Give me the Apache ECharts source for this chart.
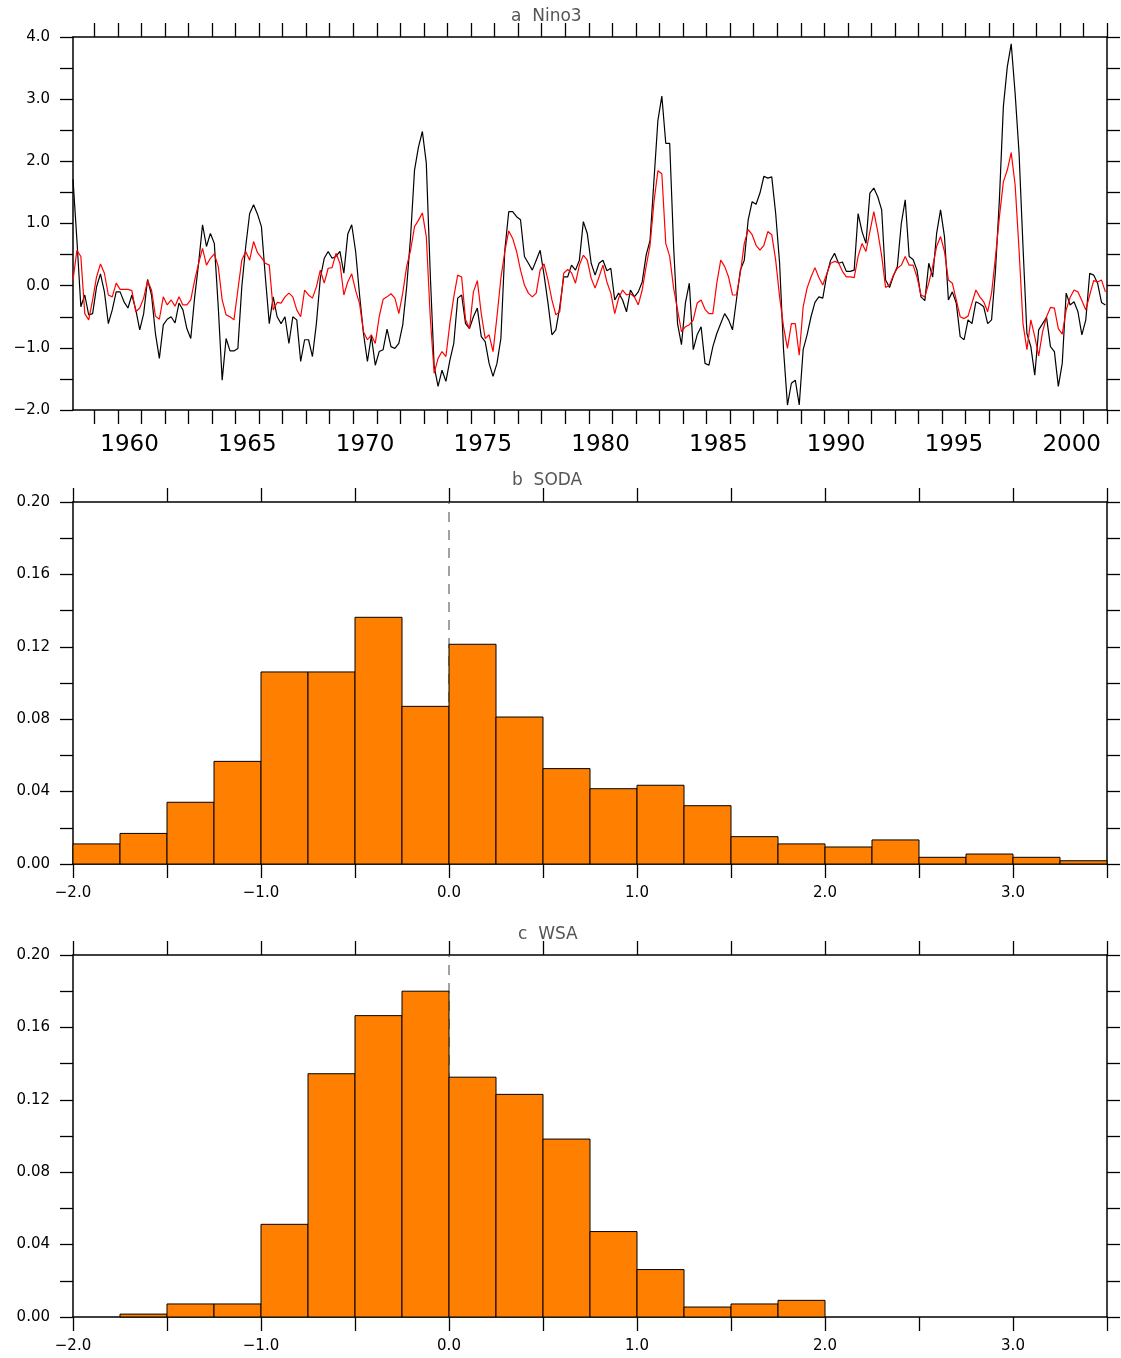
<!DOCTYPE html>
<html>
<head>
<meta charset="utf-8">
<script src="https://cdn.jsdelivr.net/npm/echarts@6.0.0/dist/echarts.min.js"></script>
<style>
  body { margin: 0; background: #fff; }
  #main { width: 1121px; height: 1358px; }
</style>
</head>
<body>
<div id="main"></div>
<script>
// Nino3 index, every two months from early 1958
var startYear = 1958.1;
var stepYear = 1 / 6;
var nino3Black = [
  1.71, 0.73, -0.34, -0.15, -0.47, -0.45, -0.02, 0.19, -0.10, -0.61,
  -0.39, -0.10, -0.10, -0.26, -0.36, -0.15, -0.39, -0.71, -0.45, 0.10,
  -0.15, -0.77, -1.17, -0.63, -0.54, -0.50, -0.60, -0.28, -0.39, -0.69,
  -0.85, -0.18, 0.36, 0.98, 0.63, 0.84, 0.68, -0.34, -1.52, -0.85,
  -1.05, -1.05, -1.01, -0.02, 0.63, 1.16, 1.30, 1.15, 0.95, 0.14,
  -0.61, -0.18, -0.50, -0.61, -0.50, -0.93, -0.50, -0.55, -1.22, -0.87,
  -0.87, -1.14, -0.61, 0.12, 0.44, 0.55,
  0.44, 0.47, 0.55, 0.20, 0.83, 0.98, 0.55, -0.15, -0.77, -1.22,
  -0.81, -1.28, -1.06, -1.03, -0.70, -0.98, -1.01, -0.93, -0.63, -0.02,
  0.79, 1.86, 2.23, 2.48, 1.97, 0.20, -1.30, -1.62, -1.36, -1.54,
  -1.20, -0.93, -0.20, -0.15, -0.61, -0.69, -0.50, -0.36, -0.82, -0.90,
  -1.25, -1.46, -1.25, -0.85, 0.57, 1.19, 1.19, 1.11, 1.06, 0.47,
  0.36, 0.25, 0.41, 0.57, 0.17, -0.28, -0.79, -0.71, -0.34, 0.14,
  0.14, 0.33, 0.25, 0.41, 1.03, 0.84,
  0.36, 0.17, 0.36, 0.41, 0.24, 0.28, -0.23, -0.12, -0.23, -0.42,
  -0.07, -0.18, -0.10, 0.06, 0.49, 0.73, 1.70, 2.66, 3.05, 2.29,
  2.29, 0.63, -0.61, -0.95, -0.28, 0.04, -1.03, -0.79, -0.66, -1.25,
  -1.28, -0.98, -0.77, -0.61, -0.45, -0.55, -0.71, -0.23, 0.25, 0.41,
  1.06, 1.35, 1.31, 1.49, 1.76, 1.73, 1.75, 1.16, 0.36, -1.03,
  -1.92, -1.57, -1.52, -1.92, -1.03, -0.79, -0.50, -0.27, -0.18, -0.20,
  0.17, 0.41, 0.52, 0.36, 0.38, 0.23,
  0.23, 0.25, 1.16, 0.87, 0.68, 1.49, 1.57, 1.43, 1.22, 0.09,
  -0.03, 0.16, 0.31, 1.00, 1.38, 0.47, 0.42, 0.25, -0.18, -0.24,
  0.36, 0.14, 0.84, 1.22, 0.79, -0.23, -0.10, -0.28, -0.82, -0.87,
  -0.55, -0.61, -0.26, -0.29, -0.34, -0.61, -0.55, 0.25, 1.40, 2.88,
  3.52, 3.89, 3.09, 2.13, 0.63, -0.77, -0.98, -1.44, -0.71, -0.61,
  -0.51, -0.98, -1.06, -1.62, -1.25, -0.12, -0.31, -0.26, -0.42, -0.79,
  -0.55, 0.20, 0.17, 0.04, -0.27, -0.31
];
var nino3Red = [
  0.09, 0.57, 0.47, -0.45, -0.55, -0.23, 0.14, 0.35, 0.20, -0.15,
  -0.18, 0.04, -0.06, -0.06, -0.06, -0.08, -0.42, -0.36, -0.20, 0.08,
  -0.07, -0.49, -0.54, -0.18, -0.31, -0.23, -0.33, -0.18, -0.31, -0.31,
  -0.23, 0.09, 0.36, 0.60, 0.33, 0.44, 0.51, 0.31, -0.23, -0.47,
  -0.50, -0.55, -0.07, 0.41, 0.55, 0.41, 0.71, 0.53, 0.45, 0.36,
  0.33, -0.39, -0.27, -0.28, -0.18, -0.12, -0.18, -0.39, -0.50, -0.07,
  -0.15, -0.20, -0.02, 0.25, 0.04, 0.28,
  0.29, 0.52, 0.36, -0.15, 0.06, 0.19, -0.08, -0.29, -0.74, -0.87,
  -0.79, -0.93, -0.50, -0.22, -0.18, -0.13, -0.20, -0.45, -0.12, 0.31,
  0.57, 0.95, 1.05, 1.17, 0.79, -0.50, -1.41, -1.17, -1.06, -1.14,
  -0.61, -0.18, 0.17, 0.14, -0.55, -0.69, -0.10, 0.08, -0.45, -0.85,
  -0.79, -1.06, -0.50, 0.12, 0.55, 0.88, 0.76, 0.55, 0.25, 0.01,
  -0.12, -0.18, -0.12, 0.25, 0.35, 0.09, -0.23, -0.47, -0.42, 0.20,
  0.26, 0.21, 0.04, 0.33, 0.49, 0.41,
  0.12, -0.04, 0.14, 0.33, 0.06, -0.12, -0.45, -0.20, -0.07, -0.15,
  -0.13, -0.18, -0.31, -0.07, 0.31, 0.65, 1.35, 1.85, 1.80, 0.68,
  0.47, -0.04, -0.39, -0.74, -0.66, -0.63, -0.55, -0.28, -0.23, -0.38,
  -0.45, -0.45, 0.04, 0.41, 0.31, 0.14, -0.15, -0.15, 0.20, 0.68,
  0.90, 0.82, 0.65, 0.57, 0.65, 0.87, 0.82, 0.41, -0.18, -0.66,
  -1.01, -0.61, -0.61, -1.12, -0.34, -0.04, 0.14, 0.29, 0.13, 0.01,
  0.19, 0.36, 0.39, 0.37, 0.23, 0.14,
  0.14, 0.13, 0.47, 0.68, 0.55, 0.87, 1.19, 0.87, 0.48, -0.03,
  0.01, 0.17, 0.28, 0.33, 0.47, 0.33, 0.33, 0.14, -0.15, -0.18,
  0.04, 0.31, 0.63, 0.79, 0.55, 0.09, 0.04, -0.23, -0.50, -0.53,
  -0.49, -0.28, -0.07, -0.18, -0.26, -0.42, -0.12, 0.47, 1.11, 1.67,
  1.86, 2.14, 1.62, 0.57, -0.61, -1.03, -0.55, -0.82, -1.13, -0.74,
  -0.50, -0.35, -0.36, -0.69, -0.78, -0.39, -0.19, -0.07, -0.10, -0.24,
  -0.39, -0.15, 0.08, 0.06, 0.09, -0.10
];
var yearLabels = [1960, 1965, 1970, 1975, 1980, 1985, 1990, 1995, 2000];

// histogram bins and relative frequencies
var binEdges = [-2.0, -1.75, -1.5, -1.25, -1.0, -0.75, -0.5, -0.25, 0.0, 0.25, 0.5,
  0.75, 1.0, 1.25, 1.5, 1.75, 2.0, 2.25, 2.5, 2.75, 3.0, 3.25, 3.5];
var sodaFreq = [0.0111, 0.0169, 0.0341, 0.0567, 0.1061, 0.1061, 0.1363, 0.0871, 0.1214, 0.0812,
  0.0527, 0.0416, 0.0435, 0.0322, 0.0151, 0.0111, 0.0094, 0.0133, 0.0037, 0.0055, 0.0037, 0.0018];
var wsaFreq = [0, 0.0016, 0.0072, 0.0072, 0.0512, 0.1344, 0.1665, 0.1800, 0.1325, 0.1230,
  0.0983, 0.0472, 0.0262, 0.0055, 0.0072, 0.0092, 0, 0, 0, 0, 0, 0];

var FONT = 'DejaVu Sans';
var chart = echarts.init(document.getElementById('main'));

function toPairs(vals) {
  var out = [];
  for (var i = 0; i < vals.length; i++) {
    out.push([startYear + i * stepYear, vals[i]]);
  }
  return out;
}

function histData(freq) {
  var out = [];
  for (var i = 0; i < freq.length; i++) {
    if (freq[i] > 0) out.push([binEdges[i], binEdges[i + 1], freq[i]]);
  }
  return out;
}

function minus(s) { return s.replace('-', '\u2212'); }

var yearTicks = [];
for (var y = 1959; y <= 2002; y++) yearTicks.push(y);
// year labels sit in the middle of their year
var yearLabelPos = yearLabels.map(function (v) { return v + 0.5; });

var lineStyle = { color: '#000', width: 1.5 };
var tickStyle = { color: '#000', width: 1.3 };

function frameAxis(grid, pos, extra) {
  var a = {
    gridIndex: grid, type: 'value', position: pos,
    axisLine: { onZero: false, lineStyle: lineStyle },
    axisTick: { inside: false, length: 14, lineStyle: tickStyle },
    axisLabel: { show: false },
    splitLine: { show: false }
  };
  return echarts.util.merge(a, extra || {}, true);
}

function merge2(a, b) { return echarts.util.merge(echarts.util.clone(a), b || {}, true); }

var timeX = { min: 1958.1, max: 2002, axisTick: { customValues: yearTicks } };
var timeXLabel = {
  axisLabel: {
    show: true, customValues: yearLabelPos, margin: 24,
    fontFamily: FONT, fontSize: 23, color: '#000',
    formatter: function (v) { return String(Math.round(v - 0.5)); }
  }
};
var timeY = { min: -2, max: 4, interval: 0.5, axisTick: { length: 13 } };
var timeYLabel = {
  axisLabel: {
    show: true, margin: 23, fontFamily: FONT, fontSize: 15, color: '#000',
    showMinLabel: true, showMaxLabel: true,
    formatter: function (v) { return Math.abs(v % 1) < 1e-6 ? minus(v.toFixed(1)) : ''; }
  }
};
var histX = { min: -2, max: 3.5, interval: 0.5 };
var histXLabel = {
  axisLabel: {
    show: true, margin: 22, fontFamily: FONT, fontSize: 15, color: '#000',
    showMinLabel: true, showMaxLabel: true,
    formatter: function (v) { return Math.abs(v % 1) < 1e-6 ? minus(v.toFixed(1)) : ''; }
  }
};
var histY = { min: 0, max: 0.2, interval: 0.02, axisTick: { length: 13 } };
var histYLabel = {
  axisLabel: {
    show: true, margin: 23, fontFamily: FONT, fontSize: 15, color: '#000',
    showMinLabel: true, showMaxLabel: true,
    formatter: function (v) { return Math.round(v * 100) % 4 === 0 ? v.toFixed(2) : ''; }
  }
};

function barItem(params, api) {
  var p0 = api.coord([api.value(0), api.value(2)]);
  var p1 = api.coord([api.value(1), 0]);
  return {
    type: 'rect',
    shape: { x: p0[0], y: p0[1], width: p1[0] - p0[0], height: p1[1] - p0[1] },
    style: { fill: '#ff8000', stroke: '#000', lineWidth: 1 }
  };
}

function zeroLine(axis) {
  return {
    type: 'line', xAxisIndex: axis, yAxisIndex: axis, z: 1,
    data: [[0, 0], [0, 0.2]], symbol: 'none',
    lineStyle: { color: '#444', width: 1, type: [10, 8] }
  };
}

function histSeries(axis, freq) {
  return {
    type: 'custom', xAxisIndex: axis, yAxisIndex: axis, z: 2,
    renderItem: barItem, encode: { x: [0, 1], y: 2 },
    data: histData(freq)
  };
}

function title(text, x, y) {
  return {
    type: 'text', left: x, top: y,
    style: { text: text, fontFamily: FONT, fontSize: 17, fill: '#555' }
  };
}

var option = {
  animation: false,
  backgroundColor: '#fff',
  grid: [
    { left: 73, top: 37, width: 1034, height: 373 },
    { left: 73, top: 502, width: 1034, height: 362 },
    { left: 73, top: 955, width: 1034, height: 362 }
  ],
  xAxis: [
    frameAxis(0, 'bottom', merge2(timeX, timeXLabel)),
    frameAxis(0, 'top', merge2(timeX)),
    frameAxis(1, 'bottom', merge2(histX, histXLabel)),
    frameAxis(1, 'top', merge2(histX)),
    frameAxis(2, 'bottom', merge2(histX, histXLabel)),
    frameAxis(2, 'top', merge2(histX))
  ],
  yAxis: [
    frameAxis(0, 'left', merge2(timeY, timeYLabel)),
    frameAxis(0, 'right', merge2(timeY)),
    frameAxis(1, 'left', merge2(histY, histYLabel)),
    frameAxis(1, 'right', merge2(histY)),
    frameAxis(2, 'left', merge2(histY, histYLabel)),
    frameAxis(2, 'right', merge2(histY))
  ],
  graphic: [
    title('a  Nino3', 511, 8),
    title('b  SODA', 512, 472),
    title('c  WSA', 518, 926)
  ],
  series: [
    {
      type: 'line', xAxisIndex: 0, yAxisIndex: 0, symbol: 'none',
      data: toPairs(nino3Black), lineStyle: { color: '#000', width: 1.2 }
    },
    {
      type: 'line', xAxisIndex: 0, yAxisIndex: 0, symbol: 'none',
      data: toPairs(nino3Red), lineStyle: { color: '#ff0000', width: 1.2 }
    },
    zeroLine(2),
    histSeries(2, sodaFreq),
    zeroLine(4),
    histSeries(4, wsaFreq)
  ]
};
chart.setOption(option);
</script>
</body>
</html>
